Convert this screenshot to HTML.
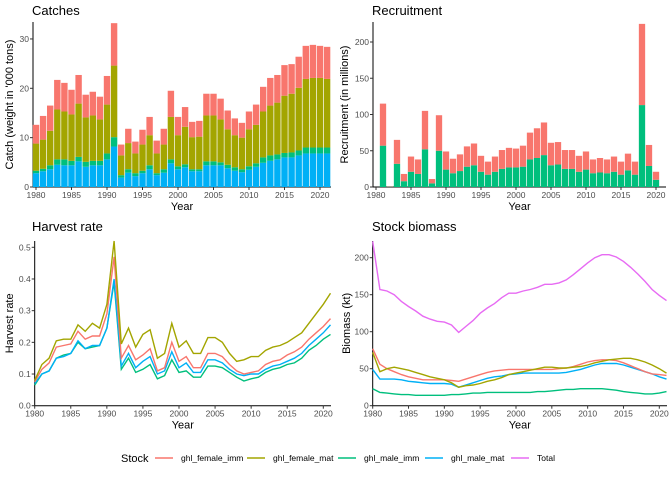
<!DOCTYPE html>
<html><head><meta charset="utf-8"><style>
body{margin:0;background:#fff;}
svg{display:block;font-family:"Liberation Sans",sans-serif;}
</style></head><body>
<svg id="c" width="672" height="480"></svg>
<script>
const years=[];for(let y=1980;y<=2021;y++)years.push(y);
const recYears=[];for(let y=1980;y<=2020;y++)recYears.push(y);
const COL={fi:'#F8766D',fm:'#A3A500',mi:'#00BF7D',mm:'#00B0F6',tot:'#E76BF3'};
// Catches ('000 t)
const catchMaleMat=[2.8,3.2,3.6,4.5,4.4,4.4,5.2,4.1,4.4,4.4,5.6,8.2,1.9,2.9,2.2,2.8,3.6,2.4,2.9,4.8,3.6,4.0,3.2,3.2,4.4,4.4,4.4,3.8,3.3,3.0,3.5,4.1,4.9,5.3,5.6,6.0,6.0,6.4,6.8,6.8,6.8,6.8];
const catchMaleImm=[0.5,0.5,0.8,1.1,1.2,0.9,0.9,1.0,0.9,0.9,1.2,1.9,0.5,0.7,0.6,0.5,0.8,0.4,0.7,0.8,0.6,0.6,0.4,0.4,0.8,0.8,0.6,0.7,0.7,0.6,0.7,0.7,1.1,1.1,1.0,0.9,1.0,1.0,1.2,1.2,1.2,1.2];
const catchFemaleMat=[5.5,5.9,7.0,10.1,9.7,9.4,10.8,9.0,9.2,8.4,9.9,14.5,4.0,5.3,4.0,5.3,6.1,4.0,5.0,8.6,6.3,7.6,6.5,6.6,9.3,9.3,8.7,7.2,6.5,6.4,7.5,7.8,9.3,10.1,10.5,11.6,11.9,12.7,13.9,14.1,14.1,13.9];
const catchFemaleImm=[3.8,4.8,5.1,6.0,5.8,5.0,5.8,4.6,4.8,4.6,5.8,8.6,2.2,2.9,2.4,3.0,3.7,2.6,3.2,5.3,3.7,4.0,3.1,3.2,4.4,4.4,4.2,3.8,3.4,3.0,3.6,4.1,5.0,5.6,5.6,6.2,6.0,6.3,6.7,6.7,6.5,6.5];
// Recruitment (millions)
const recMale=[0,57,0.5,32,8,21,18,52,5,50,24,19,22,28,30,21,17,21,25,27,27,28,38,40,44,30,31,25,25,21,24,19,20,19,21,17,23,17,113,29,10];
const recFemale=[0,58,0.5,33,10,21,20,53,6,49,25,20,23,28,30,22,18,21,26,27,26,29,37,41,45,31,31,26,26,22,25,19,20,19,21,18,23,18,112,29,11];
// Harvest rate
const hrFemaleImm=[.075,.115,.135,.185,.19,.195,.235,.21,.22,.22,.29,.47,.15,.19,.145,.16,.18,.11,.12,.2,.14,.155,.12,.12,.165,.165,.155,.13,.11,.1,.105,.11,.13,.14,.145,.16,.17,.185,.21,.23,.25,.275];
const hrFemaleMat=[.08,.13,.15,.205,.21,.21,.255,.235,.26,.245,.32,.52,.195,.245,.185,.225,.24,.15,.165,.26,.185,.205,.165,.165,.215,.215,.2,.165,.14,.145,.155,.155,.175,.185,.19,.2,.215,.23,.26,.29,.32,.355];
const hrMaleImm=[.065,.1,.11,.15,.16,.165,.2,.18,.185,.19,.245,.39,.115,.15,.105,.115,.13,.085,.095,.145,.105,.11,.09,.09,.125,.125,.12,.105,.09,.078,.085,.09,.105,.115,.12,.13,.135,.15,.175,.19,.21,.225];
const hrMaleMat=[.07,.1,.11,.15,.155,.165,.205,.18,.19,.19,.245,.4,.125,.165,.12,.14,.155,.1,.11,.17,.12,.135,.105,.105,.145,.145,.135,.115,.1,.095,.1,.1,.115,.125,.13,.14,.15,.165,.19,.21,.23,.255];
// Biomass (kt)
const bmFemaleImm=[77,56,50,46,42,39,37,35,35,35,35,34,33,36,39,42,45,47,48,49,49,49,49,49,49,49,50,51,53,56,59,61,62,62,61,58,54,50,46,43,42,41];
const bmFemaleMat=[72,46,50,52,50,48,45,42,39,37,35,31,25,27,28,30,33,35,38,42,44,46,48,50,52,52,51,51,52,53,55,58,60,62,63,64,64,62,59,55,50,44];
const bmMaleImm=[23,18,17,16,15,15,14,14,14,14,14,15,15,16,17,17,18,18,18,18,18,18,18,19,19,20,21,22,22,23,23,23,23,22,21,19,18,17,16,16,17,19];
const bmMaleMat=[49,36,36,36,35,33,32,31,30,30,30,29,25,28,31,34,37,39,40,42,43,44,44,44,44,44,44,45,47,49,52,55,57,57,57,55,52,49,46,43,39,36];
const bmTotal=[222,157,155,150,141,134,128,121,117,114,113,109,99,107,115,125,132,138,146,152,152,155,157,160,164,164,166,170,177,185,193,200,204,204,201,195,187,178,168,157,149,142];
const xTicks=[1980,1985,1990,1995,2000,2005,2010,2015,2020];

const svg=document.getElementById('c');
const NS='http://www.w3.org/2000/svg';
function mk(tag,at,parent){const e=document.createElementNS(NS,tag);for(const k in at)e.setAttribute(k,at[k]);(parent||svg).appendChild(e);return e;}
function txt(s,at,parent){const e=mk('text',at,parent);e.textContent=s;return e;}

function panel(o){
  const g=mk('g',{});
  
  
  const X=v=>o.x0+(v-1980)*o.xs, Y=v=>o.y0-v*o.ys;
  const t=txt(o.title,{x:o.tx,y:o.ty,'font-size':13,fill:'#000'},g);
  
  
  // axes
  const ax=mk('path',{d:`M${o.ax},${o.top}V${o.y0}H${o.right}`,stroke:'#000',fill:'none','stroke-width':1},g);
  
  
  xTicks.forEach(v=>{
    mk('line',{x1:X(v),x2:X(v),y1:o.y0,y2:o.y0+3,stroke:'#333'},g);
    const l=txt(v,{x:X(v),y:o.y0+11,'font-size':8.5,fill:'#4d4d4d','text-anchor':'middle'},g);
    
    
  });
  o.yt.forEach(v=>{
    mk('line',{x1:o.ax-3,x2:o.ax,y1:Y(v),y2:Y(v),stroke:'#333'},g);
    const l=txt(o.fmt?o.fmt(v):v,{x:o.ax-4,y:Y(v)+3,'font-size':8.5,fill:'#4d4d4d','text-anchor':'end'},g);
    
    
  });
  const xt=txt('Year',{x:(o.ax+o.right)/2,y:o.y0+23,'font-size':11,fill:'#000','text-anchor':'middle'},g);
  
  
  const yx=o.ylx,yy=(o.top+o.y0)/2;
  const yt=txt(o.ylab,{x:yx,y:yy,'font-size':11,fill:'#000','text-anchor':'middle',transform:`rotate(-90 ${yx} ${yy})`},g);
  
  
  return {g,X,Y};
}

// Catches
let p=panel({name:'catches',title:'Catches',tx:32,ty:15,x0:36,xs:7.1,y0:187,ys:4.935,ax:33,top:22,right:331,yt:[0,10,20,30],ylab:"Catch (weight in '000 tons)",ylx:13});
const cSeries=[[catchMaleMat,COL.mm,'male-mat'],[catchMaleImm,COL.mi,'male-imm'],[catchFemaleMat,COL.fm,'female-mat'],[catchFemaleImm,COL.fi,'female-imm']];
years.forEach((yr,i)=>{let base=0;cSeries.forEach(s=>{const v=s[0][i];
  const r=mk('rect',{x:p.X(yr)-3.2,width:6.4,y:p.Y(base+v),height:v*4.935,fill:s[1]},p.g);
  
  
  base+=v;});});

// Recruitment
p=panel({name:'recruitment',title:'Recruitment',tx:372,ty:15,x0:376,xs:7.0,y0:187,ys:0.725,ax:373,top:22,right:666,yt:[0,50,100,150,200],ylab:'Recruitment (in millions)',ylx:348});
recYears.forEach((yr,i)=>{let base=0;[[recMale,COL.mi,'male'],[recFemale,COL.fi,'female']].forEach(s=>{const v=s[0][i];if(v<=0)return;
  const r=mk('rect',{x:p.X(yr)-3.15,width:6.3,y:p.Y(base+v),height:v*0.725,fill:s[1]},p.g);
  
  
  base+=v;});});

function lines(p,arr){arr.forEach(s=>{
  const d=s[0].map((v,i)=>(i?'L':'M')+p.X(years[i]).toFixed(1)+','+p.Y(v).toFixed(1)).join('');
  const l=mk('path',{d,stroke:s[1],fill:'none','stroke-width':1.4},p.g);
  
  });}

// Harvest
p=panel({name:'harvest',title:'Harvest rate',tx:32,ty:231,x0:34.7,xs:7.215,y0:405.7,ys:316.8,ax:34.7,top:241,right:331,yt:[0,0.1,0.2,0.3,0.4,0.5],fmt:v=>v.toFixed(1),ylab:'Harvest rate',ylx:13});
lines(p,[[hrMaleImm,COL.mi,'harvest-line-male-imm'],[hrMaleMat,COL.mm,'harvest-line-male-mat'],[hrFemaleImm,COL.fi,'harvest-line-female-imm'],[hrFemaleMat,COL.fm,'harvest-line-female-mat']]);

// Biomass
p=panel({name:'biomass',title:'Stock biomass',tx:372,ty:231,x0:372.7,xs:7.165,y0:405.7,ys:0.74,ax:372.7,top:241,right:667,yt:[0,50,100,150,200],ylab:'Biomass (kt)',ylx:350});
lines(p,[[bmMaleImm,COL.mi,'biomass-line-male-imm'],[bmMaleMat,COL.mm,'biomass-line-male-mat'],[bmFemaleImm,COL.fi,'biomass-line-female-imm'],[bmFemaleMat,COL.fm,'biomass-line-female-mat'],[bmTotal,COL.tot,'biomass-line-total']]);

// Legend
const lg=mk('g',{});


const lt=txt('Stock',{x:121,y:462,'font-size':11,fill:'#000'},lg);


const legNames=['ghl_female_imm','ghl_female_mat','ghl_male_imm','ghl_male_mat','Total'];
const legCols=[COL.fi,COL.fm,COL.mi,COL.mm,COL.tot];
const legX=[155,247,338,425,511];
legNames.forEach((n,i)=>{
  const e=mk('g',{},lg);
  
  
  mk('line',{x1:legX[i],x2:legX[i]+18,y1:458,y2:458,stroke:legCols[i],'stroke-width':1.4},e);
  txt(n,{x:legX[i]+26,y:461,'font-size':8.5,fill:'#000'},e);
});
</script>
</body></html>
